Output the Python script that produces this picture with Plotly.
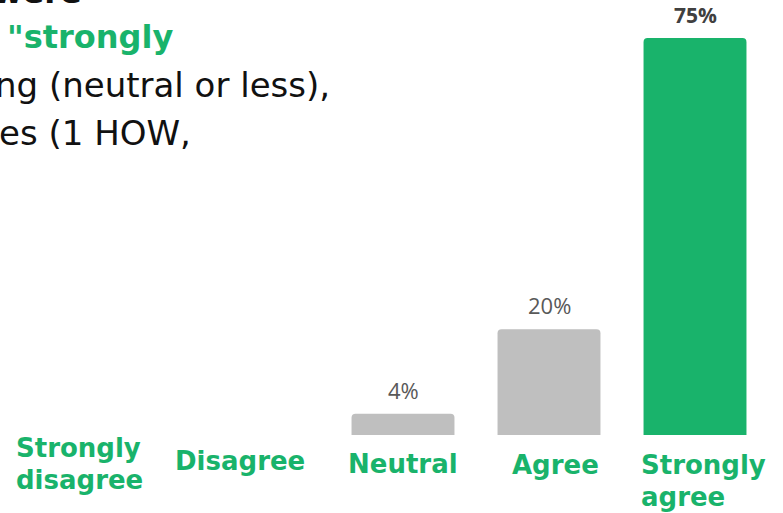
import plotly.graph_objects as go

categories = ["Strongly disagree", "Disagree", "Neutral", "Agree", "Strongly agree"]
values = [0, 0, 4, 20, 75]
value_labels = ["", "", "4%", "20%", "75%"]
bar_colors = ["#BFBFBF", "#BFBFBF", "#BFBFBF", "#BFBFBF", "#19B36B"]

GREEN = "#19B36B"
W, H = 783, 513

fig = go.Figure()
fig.add_trace(go.Bar(
    x=list(range(len(categories))), y=values,
    marker=dict(color=bar_colors, line=dict(width=0)),
    width=0.705, hoverinfo="skip",
))

# value labels above bars
for i, (v, lab) in enumerate(zip(values, value_labels)):
    if not lab:
        continue
    bold = v == max(values)
    fig.add_annotation(
        x=i, y=v, xref="x", yref="y", text=f"<b>{lab}</b>" if bold else lab,
        showarrow=False, yanchor="bottom", yshift=7,
        font=dict(family="Open Sans", size=22 if not bold else 21,
                  color="#404040" if bold else "#595959"),
    )

# category labels (positioning in pixels)
lab_pos = {  # (x pixel anchor, align, y center pixel of first line)
    0: (14, "left", 448),
    1: (240, "center", 461),
    2: (403, "center", 464),
    3: (555, "center", 465),
    4: (639, "left", 465),
}
for i, cat in enumerate(categories):
    px, align, py = lab_pos[i]
    words = cat.split(" ")
    lines = words if len(words) > 1 else [cat]
    for j, line in enumerate(lines):
        fig.add_annotation(
            x=px / W, y=1 - (py + j * 32) / H, xref="paper", yref="paper",
            text=f"<b>{line}</b>", showarrow=False,
            xanchor="left" if align == "left" else "center", yanchor="middle",
            font=dict(family="DejaVu Sans", size=26, color=GREEN),
        )

# cropped title text at top-left
title_lines = [
    ("<b>were</b>", "#111111", 84, -8, 32),
    ("<b>\"strongly</b>", GREEN, 175, 37, 32),
    ("ng (neutral or less),", "#111111", 332, 85, 34),
    ("es (1 HOW,", "#111111", 193, 133, 34),
]
for txt, col, right, cy, sz in title_lines:
    fig.add_annotation(
        x=right / W, y=1 - cy / H, xref="paper", yref="paper", text=txt,
        showarrow=False, xanchor="right", yanchor="middle",
        font=dict(family="DejaVu Sans", size=sz, color=col),
    )

px_per_cat = 146.0
x0 = 2 - 403 / px_per_cat
ppu = 397 / 75.0
fig.update_layout(
    width=W, height=H,
    margin=dict(l=0, r=0, t=0, b=0),
    paper_bgcolor="white", plot_bgcolor="white",
    showlegend=False, barcornerradius=4,
    xaxis=dict(range=[x0, x0 + W / px_per_cat], visible=False, fixedrange=True),
    yaxis=dict(range=[-(H - 435) / ppu, 435 / ppu], visible=False, fixedrange=True),
)
fig.write_html("out.html", config={"displayModeBar": False},
               post_script="document.body.style.margin='0';")
